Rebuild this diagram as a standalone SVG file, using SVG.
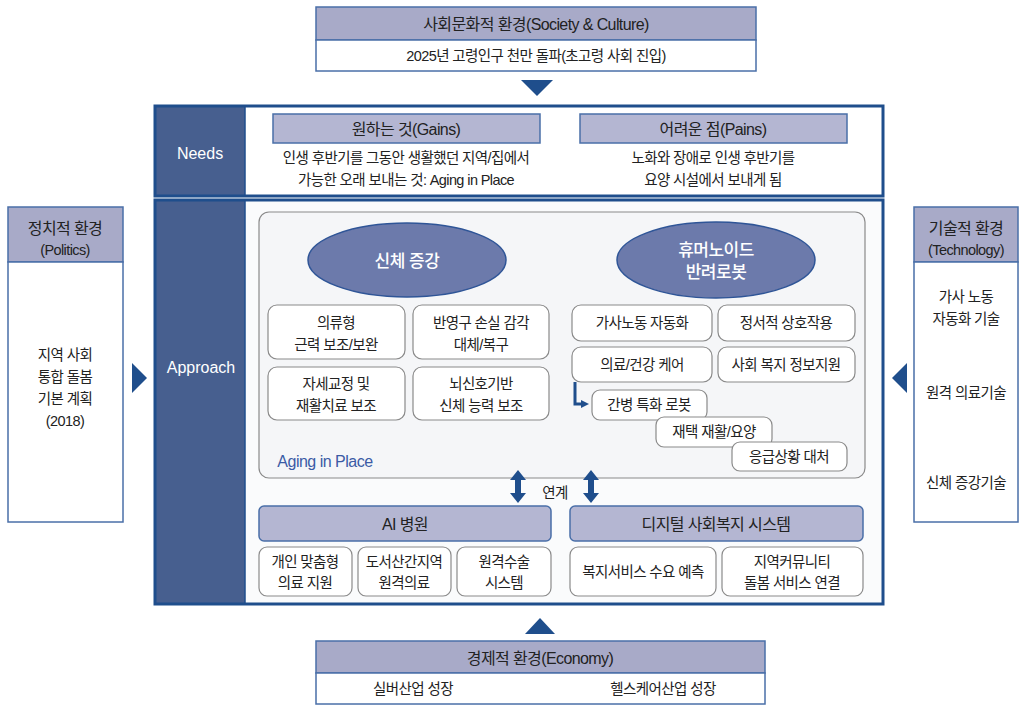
<svg xmlns="http://www.w3.org/2000/svg" width="1024" height="705" viewBox="0 0 1024 705">
<defs>
<style>
text{font-family:"Liberation Sans","Noto Sans CJK KR",sans-serif;fill:#222;text-anchor:middle;dominant-baseline:central}
.k{font-size:14.5px;letter-spacing:-0.6px}
.h{font-size:16px;letter-spacing:-0.6px}
.hdr{fill:#a8aac8;stroke:#4a6fa8;stroke-width:1.5}
.body{fill:#fff;stroke:#4a6fa8;stroke-width:1.5}
.frame{fill:none;stroke:#1f4e8c;stroke-width:3}
.band{fill:#475f8f}
.et{font-size:17px;fill:#fff;font-weight:500;letter-spacing:-0.5px}
.rb{fill:#fff;stroke:#8a8a8a;stroke-width:1.2}
.ell{fill:#6c7aab;stroke:#2f5597;stroke-width:1.5}
.tri{fill:#1f4e8c}
.hb{fill:#b4b6d2;stroke:#4a6fa8;stroke-width:1.5}
</style>
<marker id="ah" viewBox="0 0 10 10" refX="5" refY="5" markerWidth="8" markerHeight="8" markerUnits="userSpaceOnUse" orient="auto"><path d="M0 0L10 5L0 10z" fill="#1f4e8c"/></marker>
<path id="dbl" d="M0 0L8 10L3 10L3 23L8 23L0 33L-8 23L-3 23L-3 10L-8 10Z" fill="#1f4e8c"/>
</defs>
<rect width="1024" height="705" fill="#fff"/>

<g id="society">
<rect class="hdr" x="316" y="7" width="440" height="33"/>
<rect class="body" x="316" y="40" width="440" height="31"/>
<text class="h" x="536" y="24">사회문화적 환경(Society &amp; Culture)</text>
<text class="k" x="536" y="56">2025년 고령인구 천만 돌파(초고령 사회 진입)</text>
</g>

<g id="needs">
<rect x="155" y="106" width="728" height="90" fill="#fff"/>
<rect class="band" x="155" y="106" width="90" height="90"/>
<rect class="frame" x="155" y="106" width="728" height="90"/>
<line x1="245" y1="106" x2="245" y2="196" stroke="#1f4e8c" stroke-width="1.5"/>
<text x="200" y="153" style="font-size:16px;fill:#fff">Needs</text>
<rect class="hb" x="273" y="114" width="267" height="29"/>
<text class="h" x="406" y="129">원하는 것(Gains)</text>
<text class="k" x="406" y="158">인생 후반기를 그동안 생활했던 지역/집에서</text>
<text class="k" x="406" y="180">가능한 오래 보내는 것: Aging in Place</text>
<rect class="hb" x="580" y="114" width="267" height="29"/>
<text class="h" x="713" y="129">어려운 점(Pains)</text>
<text class="k" x="713" y="158">노화와 장애로 인생 후반기를</text>
<text class="k" x="713" y="180">요양 시설에서 보내게 됨</text>
</g>

<g id="approach">
<rect x="155" y="200" width="728" height="404" fill="#fafbfc"/>
<rect class="band" x="155" y="200" width="90" height="404"/>
<rect class="frame" x="155" y="200" width="728" height="404"/>
<line x1="245" y1="200" x2="245" y2="604" stroke="#1f4e8c" stroke-width="1.5"/>
<text x="201" y="367" style="font-size:16px;fill:#fff">Approach</text>
</g>

<g id="aging">
<rect x="259" y="212" width="606" height="266" rx="10" fill="#f5f6f8" stroke="#8a8a8a" stroke-width="1.2"/>
<text x="325" y="461" style="font-size:16px;fill:#3b5ba5;letter-spacing:-0.5px">Aging in Place</text>
</g>

<g id="body-aug">
<ellipse class="ell" cx="407" cy="260" rx="99" ry="37"/>
<text class="et" x="407" y="261">신체 증강</text>
<rect class="rb" x="268" y="305" width="137" height="54" rx="9"/>
<text class="k" x="336" y="323">의류형</text>
<text class="k" x="336" y="345">근력 보조/보완</text>
<rect class="rb" x="413" y="305" width="136" height="54" rx="9"/>
<text class="k" x="481" y="323">반영구 손실 감각</text>
<text class="k" x="481" y="345">대체/복구</text>
<rect class="rb" x="268" y="367" width="137" height="53" rx="9"/>
<text class="k" x="336" y="384">자세교정 및</text>
<text class="k" x="336" y="406">재활치료 보조</text>
<rect class="rb" x="413" y="367" width="136" height="53" rx="9"/>
<text class="k" x="481" y="384">뇌신호기반</text>
<text class="k" x="481" y="406">신체 능력 보조</text>
</g>

<g id="robot">
<ellipse class="ell" cx="716" cy="260" rx="99" ry="38"/>
<text class="et" x="716" y="250">휴머노이드</text>
<text class="et" x="716" y="272">반려로봇</text>
<rect class="rb" x="572" y="305" width="140" height="36" rx="9"/>
<text class="k" x="642" y="323">가사노동 자동화</text>
<rect class="rb" x="718" y="305" width="137" height="36" rx="9"/>
<text class="k" x="786" y="323">정서적 상호작용</text>
<rect class="rb" x="572" y="347" width="140" height="35" rx="9"/>
<text class="k" x="642" y="365">의료/건강 케어</text>
<rect class="rb" x="718" y="347" width="137" height="35" rx="9"/>
<text class="k" x="786" y="365">사회 복지 정보지원</text>
<rect class="rb" x="592" y="390" width="115" height="30" rx="8"/>
<text class="k" x="649" y="405">간병 특화 로봇</text>
<rect class="rb" x="656" y="417" width="116" height="30" rx="8"/>
<text class="k" x="714" y="432">재택 재활/요양</text>
<rect class="rb" x="732" y="442" width="115" height="29" rx="8"/>
<text class="k" x="789" y="457">응급상황 대처</text>
</g>

<g id="ai-hospital">
<rect class="hb" x="259" y="506" width="292" height="35" rx="5"/>
<text class="h" x="405" y="524">AI 병원</text>
<rect class="rb" x="259" y="547" width="93" height="49" rx="8"/>
<text class="k" x="305" y="562">개인 맞춤형</text>
<text class="k" x="305" y="583">의료 지원</text>
<rect class="rb" x="358" y="547" width="93" height="49" rx="8"/>
<text class="k" x="404" y="562">도서산간지역</text>
<text class="k" x="404" y="583">원격의료</text>
<rect class="rb" x="457" y="547" width="94" height="49" rx="8"/>
<text class="k" x="504" y="562">원격수술</text>
<text class="k" x="504" y="583">시스템</text>
</g>

<g id="digital-welfare">
<rect class="hb" x="570" y="506" width="293" height="35" rx="5"/>
<text class="h" x="716" y="524">디지털 사회복지 시스템</text>
<rect class="rb" x="570" y="547" width="146" height="49" rx="8"/>
<text class="k" x="643" y="572">복지서비스 수요 예측</text>
<rect class="rb" x="722" y="547" width="141" height="49" rx="8"/>
<text class="k" x="792" y="562">지역커뮤니티</text>
<text class="k" x="792" y="583">돌봄 서비스 연결</text>
</g>

<g id="politics">
<rect class="hdr" x="8" y="207" width="115" height="55"/>
<rect class="body" x="8" y="262" width="115" height="260"/>
<text class="h" x="65" y="228">정치적 환경</text>
<text class="k" x="65" y="250">(Politics)</text>
<text class="k" x="65" y="355">지역 사회</text>
<text class="k" x="65" y="377">통합 돌봄</text>
<text class="k" x="65" y="399">기본 계획</text>
<text class="k" x="65" y="421">(2018)</text>
</g>

<g id="technology">
<rect class="hdr" x="914" y="207" width="104" height="55"/>
<rect class="body" x="914" y="262" width="104" height="260"/>
<text class="h" x="966" y="228">기술적 환경</text>
<text class="k" x="966" y="250">(Technology)</text>
<text class="k" x="966" y="297">가사 노동</text>
<text class="k" x="966" y="319">자동화 기술</text>
<text class="k" x="966" y="393">원격 의료기술</text>
<text class="k" x="966" y="483">신체 증강기술</text>
</g>

<g id="economy">
<rect class="hdr" x="316" y="641" width="449" height="32"/>
<rect class="body" x="316" y="673" width="449" height="31"/>
<text class="h" x="540" y="658">경제적 환경(Economy)</text>
<text class="k" x="413" y="689">실버산업 성장</text>
<text class="k" x="663" y="689">헬스케어산업 성장</text>
</g>

<g id="connectors">
<path class="tri" d="M521 80L553 80L537 96Z"/>
<path class="tri" d="M525 634L555 634L540 618Z"/>
<path class="tri" d="M132 363L147 378L132 393Z"/>
<path class="tri" d="M907 363L892 378L907 393Z"/>
<use href="#dbl" x="518" y="470"/>
<use href="#dbl" x="591" y="470"/>
<text class="k" x="555" y="493">연계</text>
<path d="M575 382V404H585" fill="none" stroke="#1f4e8c" stroke-width="3" marker-end="url(#ah)"/>
</g>
</svg>
